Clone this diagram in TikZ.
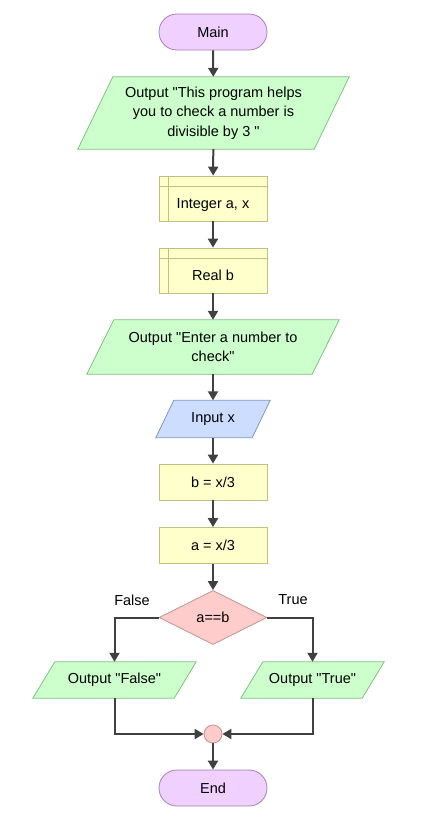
\documentclass[tikz,border=0pt]{standalone}
\usepackage{fontspec}
\newfontfamily\arialf{Liberation Sans}
\usetikzlibrary{calc,shapes.geometric,arrows.meta,backgrounds}
\definecolor{termfill}{HTML}{EFD0FF}
\definecolor{termline}{HTML}{A080B8}
\definecolor{iofill}{HTML}{CCFFCC}
\definecolor{ioline}{HTML}{80C080}
\definecolor{procfill}{HTML}{FFFFCC}
\definecolor{procline}{HTML}{C0C080}
\definecolor{infill}{HTML}{CCDDFF}
\definecolor{inline}{HTML}{7A96C8}
\definecolor{decfill}{HTML}{FFCCCC}
\definecolor{decline}{HTML}{C09090}
\definecolor{arrcol}{HTML}{404040}
\newcommand\drawpara[3]{%
  \draw[#3] ($(#1.north west)+(#2,0)$) -- ($(#1.north east)+(#2,0)$) --
    ($(#1.south east)+(-#2,0)$) -- ($(#1.south west)+(-#2,0)$) -- cycle;}
\tikzset{
  base/.style={inner sep=0pt, align=center, font=\arialf\fontsize{14.5}{19.5}\selectfont},
  term/.style={base, rectangle, rounded corners=17.9pt, draw=termline, fill=termfill, line width=0.8pt, minimum width=108pt, minimum height=36pt},
  para/.style={base, rectangle, minimum height=#1},
  iostyle/.style={draw=ioline, fill=iofill, line width=0.8pt},
  instyle/.style={draw=inline, fill=infill, line width=0.8pt},
  proc/.style={base, rectangle, draw=procline, fill=procfill, line width=0.8pt, minimum width=108pt, minimum height=36pt},
  decl/.style={proc, minimum height=45pt, text height=22pt, text depth=2pt,
    path picture={\draw[procline, line width=0.8pt]
      ($(path picture bounding box.north west)+(0,-10pt)$) -- ($(path picture bounding box.north east)+(0,-10pt)$)
      ($(path picture bounding box.north west)+(9pt,0)$) -- ($(path picture bounding box.south west)+(9pt,0)$);}},
  dec/.style={base, diamond, aspect=2, draw=decline, fill=decfill, line width=0.8pt, minimum width=108pt, minimum height=54pt},
  junc/.style={circle, draw=decline, fill=decfill, line width=0.8pt, minimum size=18pt, inner sep=0pt},
  lbl/.style={base},
  arr/.style={draw=arrcol, line width=2pt, -{Triangle[length=9pt,width=10pt]}},
  ln/.style={draw=arrcol, line width=2pt}
}
\begin{document}
\begin{tikzpicture}[x=1pt,y=-1pt]
\useasboundingbox (0,0) rectangle (422,823);
\node[term] (main) at (213,32) {Main};
\node[para=72pt, minimum width=236pt] (p1) at (213.5,113) {Output "This program helps\\you to check a number is\\divisible by 3 "};
\node[decl] (ia) at (213,198.5) {Integer a, x};
\node[decl] (rb) at (213,270.5) {Real b};
\node[para=54pt, minimum width=225pt] (p2) at (213,347) {Output "Enter a number to\\check"};
\node[para=37pt, minimum width=96pt] (inx) at (213,419) {Input x};
\node[proc] (bx) at (213,482) {b = x/3};
\node[proc] (ax) at (213,545.5) {a = x/3};
\node[dec] (d) at (213,617.5) {a==b};
\node[lbl] (lf) at (132,600) {False};
\node[lbl] (lt) at (293,600) {True};
\node[para=36pt, minimum width=141pt] (pf) at (114.5,680) {Output "False"};
\node[para=36pt, minimum width=121pt] (pt) at (312.5,680) {Output "True"};
\node[junc] (j) at (213,734) {};
\node[term] (end) at (213,788) {End};
\begin{scope}[on background layer]
\fill[white] (0,0) rectangle (422,823);
\drawpara{p1}{17.5pt}{iostyle}
\drawpara{p2}{13.5pt}{iostyle}
\drawpara{inx}{9pt}{instyle}
\drawpara{pf}{11pt}{iostyle}
\drawpara{pt}{11pt}{iostyle}
\end{scope}
\draw[arr] (main) -- (p1);
\draw[arr] (p1) -- (ia);
\draw[arr] (ia) -- (rb);
\draw[arr] (rb) -- (p2);
\draw[arr] (p2) -- (inx);
\draw[arr] (inx) -- (bx);
\draw[arr] (bx) -- (ax);
\draw[arr] (ax) -- (d);
\draw[arr] (d.west) -| (pf.north);
\draw[arr] (d.east) -| (pt.north);
\draw[arr] (pf.south) |- (j.west);
\draw[arr] (pt.south) |- (j.east);
\draw[arr] (j) -- (end);
\end{tikzpicture}
\end{document}
